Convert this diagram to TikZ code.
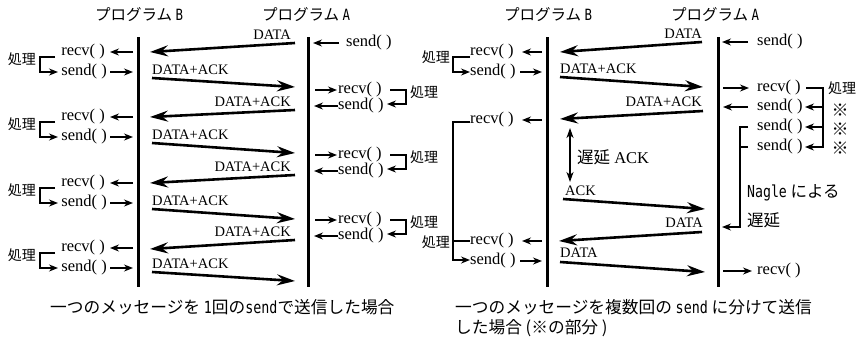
\documentclass[tikz,border=0pt]{standalone}
\usepackage{fontspec}
\setmainfont{Liberation Serif}
\newfontfamily\jp{Noto Sans CJK JP}
\newfontfamily\nmono[FakeStretch=0.8]{DejaVu Sans Mono}
\usetikzlibrary{arrows.meta}
\tikzset{
  life/.style={line width=3pt},
  msg/.style={line width=2.6pt,-{Stealth[length=18pt,width=11pt,inset=6pt]}},
  sarr/.style={line width=1.9pt,-{Stealth[length=9pt,width=7pt,inset=3pt]}},
  dblarr/.style={line width=2pt,{Stealth[length=10pt,width=7pt,inset=3pt]}-{Stealth[length=10pt,width=7pt,inset=3pt]}},
  brk/.style={line width=1.9pt},
  fn/.style={font=\fontsize{16.5}{16.5}\selectfont,inner sep=0pt},
  mlbl/.style={font=\fontsize{14.5}{14.5}\selectfont,inner sep=0pt},
  jlbl/.style={font=\jp\fontsize{14}{14}\selectfont,inner sep=0pt},
  refmark/.style={font=\jp\fontsize{17}{17}\selectfont,inner sep=0pt},
  ptitle/.style={font=\jp\fontsize{15.5}{15.5}\selectfont,inner sep=0pt},
  captext/.style={font=\jp\fontsize{16.7}{16.7}\selectfont,inner sep=0pt,anchor=west},
  nagle/.style={font=\jp\fontsize{16.5}{16.5}\selectfont,inner sep=0pt,anchor=west},
}
\begin{document}
\begin{tikzpicture}[x=1pt,y=-1pt]
\fill[white] (0,0) rectangle (860,338);
\useasboundingbox (0,0) rectangle (860,338);

% ================= LEFT PANEL =================
\node[ptitle] (tLB) at (139,15) {プログラム {\nmono B}};
\node[ptitle] (tLA) at (306,15) {プログラム {\nmono A}};
\coordinate (LBt) at (138,37); \coordinate (LBb) at (138,287);
\coordinate (LAt) at (308,37); \coordinate (LAb) at (308,287);
\draw[life] (LBt) -- (LBb);
\draw[life] (LAt) -- (LAb);

% A initial send
\node[fn,anchor=west] (LAs0x) at (346,43) {send( )};
\coordinate (LAs0a) at (339,43); \coordinate (LAs0b) at (313,43);
\draw[sarr] (LAs0a) -- (LAs0b);

% B side groups
\foreach \i/\y in {0/52,1/117,2/183,3/248}{
  \node[fn,anchor=east] (LBr\i) at (105,\y) {recv( )};
  \node[fn,anchor=east] (LBs\i) at (107,{\y+20}) {send( )};
  \coordinate (LBra\i) at (133,\y); \coordinate (LBrb\i) at (110,\y);
  \draw[sarr] (LBra\i) -- (LBrb\i);
  \coordinate (LBsa\i) at (110,{\y+20}); \coordinate (LBsb\i) at (133,{\y+20});
  \draw[sarr] (LBsa\i) -- (LBsb\i);
  \coordinate (LBka\i) at (55,{\y+5}); \coordinate (LBkb\i) at (58,{\y+20});
  \draw[sarr] (LBka\i) -- ++(-15,0) |- (LBkb\i);
  \node[jlbl,anchor=east] (LBp\i) at (36,{\y+7}) {処理};
}

% A side groups
\foreach \i/\y in {0/90,1/155,2/220}{
  \node[fn,anchor=west] (LAr\i) at (338,\y) {recv( )};
  \node[fn,anchor=west] (LAs\i) at (338,{\y+16}) {send( )};
  \coordinate (LAra\i) at (315,\y); \coordinate (LArb\i) at (337,\y);
  \draw[sarr] (LAra\i) -- (LArb\i);
  \coordinate (LAsa\i) at (338,{\y+16}); \coordinate (LAsb\i) at (314,{\y+16});
  \draw[sarr] (LAsa\i) -- (LAsb\i);
  \coordinate (LAka\i) at (390,\y); \coordinate (LAkb\i) at (387,{\y+14});
  \draw[sarr] (LAka\i) -- ++(16,0) |- (LAkb\i);
  \node[jlbl,anchor=west] (LAp\i) at (410,{\y+2}) {処理};
}

% messages
\coordinate (m1s) at (295,43); \coordinate (m1e) at (150,52);
\draw[msg] (m1s) -- (m1e);
\node[mlbl,anchor=south east] (m1l) at (291,40) {DATA};
\foreach \i/\s/\e in {0/78/87,1/143/153,2/209/219,3/272/281}{
  \coordinate (LuS\i) at (152,\s); \coordinate (LuE\i) at (295,\e);
  \draw[msg] (LuS\i) -- (LuE\i);
  \node[mlbl,anchor=south west] (LuL\i) at (152,{\s-3}) {DATA+ACK};
}
\foreach \i/\s/\e in {1/110/117,2/175/183,3/240/249}{
  \coordinate (LdS\i) at (295,\s); \coordinate (LdE\i) at (150,\e);
  \draw[msg] (LdS\i) -- (LdE\i);
  \node[mlbl,anchor=south east] (LdL\i) at (291,{\s-3}) {DATA+ACK};
}

\node[captext] (capL) at (50,307) {一つのメッセージを {\nmono 1}回の{\nmono send}で送信した場合};

% ================= RIGHT PANEL =================
\node[ptitle] (tRB) at (548,15) {プログラム {\nmono B}};
\node[ptitle] (tRA) at (715,15) {プログラム {\nmono A}};
\coordinate (RBt) at (547,37); \coordinate (RBb) at (547,287);
\coordinate (RAt) at (718,37); \coordinate (RAb) at (718,287);
\draw[life] (RBt) -- (RBb);
\draw[life] (RAt) -- (RAb);

% B side
\node[fn,anchor=west] (RBr0) at (470,52) {recv( )};
\node[fn,anchor=west] (RBs0) at (470,72) {send( )};
\coordinate (RBr0a) at (542,52); \coordinate (RBr0b) at (522,52);
\draw[sarr] (RBr0a) -- (RBr0b);
\coordinate (RBs0a) at (520,72); \coordinate (RBs0b) at (542,72);
\draw[sarr] (RBs0a) -- (RBs0b);
\coordinate (RBk0a) at (470,57); \coordinate (RBk0b) at (470,72);
\draw[sarr] (RBk0a) -- (453,57) |- (RBk0b);
\node[jlbl,anchor=east] (RBp0) at (450,57) {処理};

\node[fn,anchor=west] (RBr1) at (470,120) {recv( )};
\coordinate (RBr1a) at (542,120); \coordinate (RBr1b) at (522,120);
\draw[sarr] (RBr1a) -- (RBr1b);
\node[fn,anchor=west] (RBr2) at (470,241) {recv( )};
\coordinate (RBr2a) at (542,241); \coordinate (RBr2b) at (522,241);
\draw[sarr] (RBr2a) -- (RBr2b);
\node[fn,anchor=west] (RBs1) at (470,261) {send( )};
\coordinate (RBs1a) at (520,261); \coordinate (RBs1b) at (542,261);
\draw[sarr] (RBs1a) -- (RBs1b);
\coordinate (RBk1a) at (470,122); \coordinate (RBk1b) at (470,260);
\draw[sarr] (RBk1a) -- (453,122) |- (RBk1b);
\coordinate (RBk2a) at (453,241); \coordinate (RBk2b) at (470,241);
\draw[brk] (RBk2a) -- (RBk2b);
\node[jlbl,anchor=east] (RBp1) at (450,242) {処理};

% A side
\node[fn,anchor=west] (RAs0) at (757,42) {send( )};
\coordinate (RAs0a) at (748,42); \coordinate (RAs0b) at (722,42);
\draw[sarr] (RAs0a) -- (RAs0b);
\node[fn,anchor=west] (RAr1) at (757,88) {recv( )};
\coordinate (RAr1a) at (723,88); \coordinate (RAr1b) at (749,88);
\draw[sarr] (RAr1a) -- (RAr1b);
\node[fn,anchor=west] (RAs1) at (757,107) {send( )};
\coordinate (RAs1a) at (748,107); \coordinate (RAs1b) at (723,107);
\draw[sarr] (RAs1a) -- (RAs1b);
\node[fn,anchor=west] (RAs2) at (757,127) {send( )};
\node[fn,anchor=west] (RAs3) at (757,147) {send( )};
\coordinate (RAka) at (806,88); \coordinate (RAkb) at (805,147);
\draw[sarr] (RAka) -- (823,88) |- (RAkb);
\coordinate (RAk1) at (823,107); \coordinate (RAk1b) at (805,107);
\draw[sarr] (RAk1) -- (RAk1b);
\coordinate (RAk2) at (823,127); \coordinate (RAk2b) at (805,127);
\draw[sarr] (RAk2) -- (RAk2b);
\node[jlbl,anchor=west] (RAp) at (828,88) {処理};
\node[refmark] (RAx1) at (840,110) {※};
\node[refmark] (RAx2) at (840,129) {※};
\node[refmark] (RAx3) at (840,148) {※};
% Nagle bracket
\coordinate (RAn1) at (748,127); \coordinate (RAn2) at (722,227);
\draw[sarr] (RAn1) -- (740,127) |- (RAn2);
\coordinate (RAn3) at (740,147); \coordinate (RAn4) at (748,147);
\draw[brk] (RAn3) -- (RAn4);
\node[nagle] (RAnag) at (747,193) {{\nmono Nagle} による};
\node[nagle] (RAdel) at (747,220) {遅延};
\node[fn,anchor=west] (RAr2) at (757,271) {recv( )};
\coordinate (RAr2a) at (723,271); \coordinate (RAr2b) at (752,271);
\draw[sarr] (RAr2a) -- (RAr2b);

% messages
\coordinate (r1s) at (702,42); \coordinate (r1e) at (560,52);
\draw[msg] (r1s) -- (r1e);
\node[mlbl,anchor=south east] (r1l) at (702,39) {DATA};
\coordinate (r2s) at (560,77); \coordinate (r2e) at (703,87);
\draw[msg] (r2s) -- (r2e);
\node[mlbl,anchor=south west] (r2l) at (560,74) {DATA+ACK};
\coordinate (r3s) at (703,111); \coordinate (r3e) at (560,119);
\draw[msg] (r3s) -- (r3e);
\node[mlbl,anchor=south east] (r3l) at (702,107) {DATA+ACK};
\coordinate (dA) at (570,128); \coordinate (dB) at (570,182);
\draw[dblarr] (dA) -- (dB);
\node[anchor=west,inner sep=0pt,font=\fontsize{16.5}{16.5}\selectfont] (dl) at (577,157) {{\jp 遅延} ACK};
\coordinate (r4s) at (563,199); \coordinate (r4e) at (705,209);
\draw[msg] (r4s) -- (r4e);
\node[mlbl,anchor=south west] (r4l) at (565,196) {ACK};
\coordinate (r5s) at (702,232); \coordinate (r5e) at (559,241);
\draw[msg] (r5s) -- (r5e);
\node[mlbl,anchor=south east] (r5l) at (703,228) {DATA};
\coordinate (r6s) at (560,262); \coordinate (r6e) at (705,272);
\draw[msg] (r6s) -- (r6e);
\node[mlbl,anchor=south west] (r6l) at (560,258) {DATA};

\node[captext] (capR1) at (455,307) {一つのメッセージを複数回の {\nmono send} に分けて送信};
\node[captext] (capR2) at (455,328) {した場合 (※の部分 )};
\end{tikzpicture}
\end{document}
